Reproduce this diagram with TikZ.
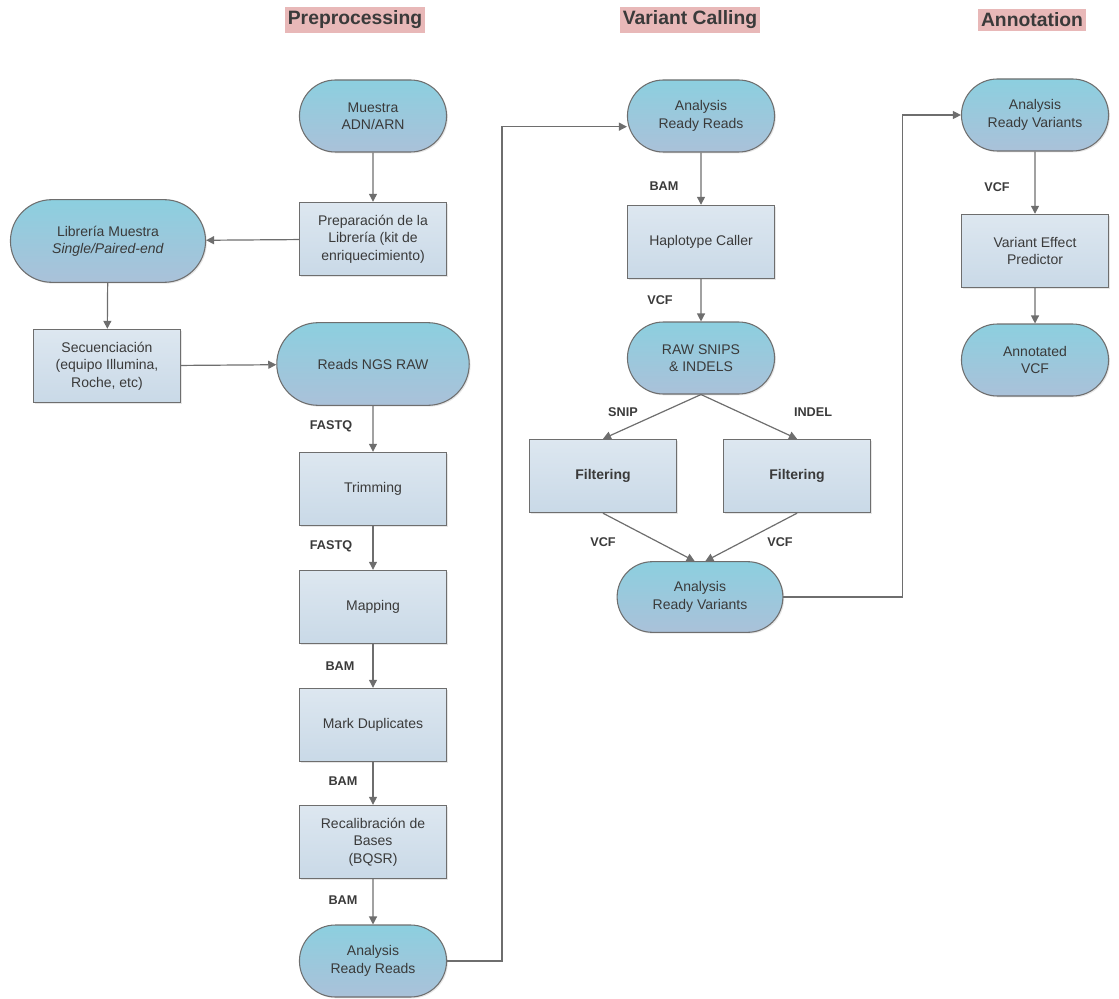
\documentclass[tikz,border=0pt]{standalone}
\usepackage{fontspec}
\setmainfont{Liberation Sans}
\usetikzlibrary{shapes.misc,arrows.meta,shadows}
\definecolor{termtop}{HTML}{8CCFDF}
\definecolor{termbot}{HTML}{AAC1D9}
\definecolor{proctop}{HTML}{DDE7F0}
\definecolor{procbot}{HTML}{C9D9E7}
\definecolor{edgegray}{HTML}{6E6E6E}
\definecolor{txtgray}{HTML}{3A3A3A}
\definecolor{hdrpink}{HTML}{E8B8B8}

\begin{document}
\begin{tikzpicture}[x=0.75pt, y=-0.75pt,
  term/.style={rounded rectangle, draw=edgegray, line width=0.8pt, top color=termtop, bottom color=termbot, minimum width=117pt, minimum height=54pt, align=center, text=txtgray, font=\fontsize{10.5}{13}\selectfont, drop shadow={opacity=0.2, shadow xshift=1pt, shadow yshift=-1pt}},
  proc/.style={rectangle, draw=edgegray, line width=0.8pt, top color=proctop, bottom color=procbot, minimum width=110pt, minimum height=55pt, align=center, text=txtgray, font=\fontsize{10.5}{13}\selectfont, drop shadow={opacity=0.2, shadow xshift=1pt, shadow yshift=-1pt}},
  hdr/.style={fill=hdrpink, text=txtgray, inner xsep=2pt, inner ysep=3pt, font=\fontsize{14.5}{16}\selectfont\bfseries},
  lbl/.style={text=txtgray, inner sep=1pt, font=\fontsize{9.5}{11}\selectfont\bfseries},
  flow/.style={draw=edgegray, line width=0.9pt, -{Triangle[length=6pt,width=6pt]}}]
\useasboundingbox (0,0) rectangle (1119,998);

\node[hdr] (hpre) at (355,20) {Preprocessing};
\node[hdr] (hvc) at (690,20) {Variant Calling};
\node[hdr] (hann) at (1032,20) {Annotation};

\node[term] (muestra) at (373,116) {Muestra\\ADN/ARN};
\node[proc] (prep) at (373,239) {Preparación de la\\Librería (kit de\\enriquecimiento)};
\node[term, minimum width=153pt, minimum height=62pt] (libreria) at (108,241) {Librería Muestra\\\textit{Single/Paired-end}};
\node[proc] (secuen) at (107,366) {Secuenciación\\(equipo Illumina,\\Roche, etc)};
\node[term, minimum width=151pt, minimum height=62pt] (raw) at (373,364) {Reads NGS RAW};
\node[proc] (trim) at (373,489) {Trimming};
\node[proc] (map) at (373,607) {Mapping};
\node[proc] (dup) at (373,725) {Mark Duplicates};
\node[proc] (bqsr) at (373,842) {Recalibración de\\Bases\\(BQSR)};
\node[term] (arr1) at (373,961) {Analysis\\Ready Reads};

\node[term] (arr2) at (701,116) {Analysis\\Ready Reads};
\node[proc] (hc) at (701,242) {Haplotype Caller};
\node[term] (snips) at (701,358) {RAW SNIPS\\\& INDELS};
\node[proc] (filt1) at (603,476) {\textbf{Filtering}};
\node[proc] (filt2) at (797,476) {\textbf{Filtering}};
\node[term, minimum width=131pt, minimum height=53pt] (arv1) at (700,597) {Analysis\\Ready Variants};

\node[term] (arv2) at (1035,115) {Analysis\\Ready Variants};
\node[proc] (vep) at (1035,251) {Variant Effect\\Predictor};
\node[term] (annot) at (1035,360) {Annotated\\VCF};

\node[lbl] (l1) at (331,426) {FASTQ};
\node[lbl] (l2) at (331,546) {FASTQ};
\node[lbl] (l3) at (340,666) {BAM};
\node[lbl] (l4) at (343,781) {BAM};
\node[lbl] (l5) at (343,900) {BAM};
\node[lbl] (l6) at (664,186) {BAM};
\node[lbl] (l7) at (660,300) {VCF};
\node[lbl] (l8) at (623,412) {SNIP};
\node[lbl] (l9) at (813,412) {INDEL};
\node[lbl] (l10) at (603,542) {VCF};
\node[lbl] (l11) at (780,542) {VCF};
\node[lbl] (l12) at (997,187) {VCF};

\draw[flow] (muestra) -- (prep);
\draw[flow] (prep) -- (libreria);
\draw[flow] (libreria) -- (secuen);
\draw[flow] (secuen) -- (raw);
\draw[flow] (raw) -- (trim);
\draw[flow] (trim) -- (map);
\draw[flow] (map) -- (dup);
\draw[flow] (dup) -- (bqsr);
\draw[flow] (bqsr) -- (arr1);
\draw[flow] (arr1.east) -- ++(55,0) |- ([yshift=-8pt]arr2.west);
\draw[flow] (arr2) -- (hc);
\draw[flow] (hc) -- (snips);
\draw[flow] (snips.south) -- (filt1.north);
\draw[flow] (snips.south) -- (filt2.north);
\draw[flow] (filt1.south) -- ([xshift=-4pt]arv1.north);
\draw[flow] (filt2.south) -- ([xshift=4pt]arv1.north);
\draw[flow] (arv1.east) -- ++(119,0) |- (arv2.west);
\draw[flow] (arv2) -- (vep);
\draw[flow] (vep) -- (annot);
\end{tikzpicture}
\end{document}
